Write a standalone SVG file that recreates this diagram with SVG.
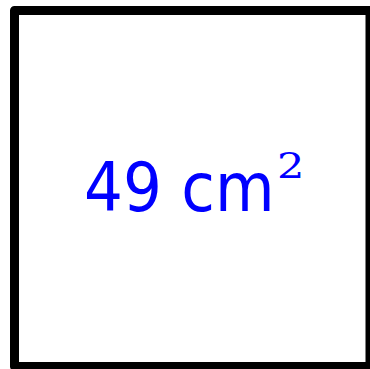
<svg xmlns="http://www.w3.org/2000/svg" width="370" height="369" viewBox="0 0 370 369">
<style>
.sq{fill:#ffffff;stroke:#000000;stroke-width:9;stroke-linejoin:round}
.lbl{fill:#0000ff;font-family:"DejaVu Sans Condensed","DejaVu Sans",sans-serif;font-stretch:condensed;font-size:68px}
.sup{fill:#0000ff;font-family:"DejaVu Serif","Liberation Serif",serif;font-size:36px}
</style>
<rect width="370" height="369" fill="#ffffff"/>
<g id="square">
<rect class="sq" x="14.5" y="10.5" width="355.5" height="356"/>
<text class="lbl" x="84" y="211">49 cm</text>
<text class="sup" transform="translate(277 178) scale(1.2 1)" x="0" y="0">2</text>
</g>
</svg>
